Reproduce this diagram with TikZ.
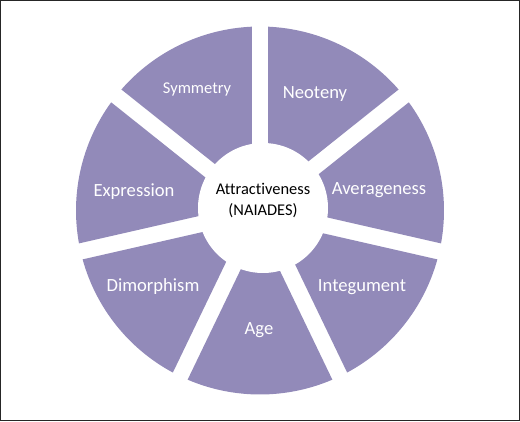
\documentclass[tikz,border=0pt]{standalone}
\usepackage{fontspec}
\setmainfont{Carlito}[Ligatures=NoCommon]
\definecolor{wheel}{RGB}{146,138,185}
\tikzset{
  seglabel/.style={text=white, inner sep=0pt, font=\fontsize{18.6}{22}\selectfont},
  seglabelsmall/.style={text=white, inner sep=0pt, font=\fontsize{16.5}{20}\selectfont},
  hublabel/.style={text=black, inner sep=0pt, align=center, font=\fontsize{16.4}{21}\selectfont}
}
\begin{document}
\begin{tikzpicture}[x=1pt,y=1pt]
\useasboundingbox (0,0) rectangle (520,421);
\draw[line width=1pt, black!85] (0.5,0.5) rectangle (519.5,420.5);
\coordinate (c) at (260,210.5);
\foreach \i in {0,...,6}{
  \pgfmathsetmacro\aone{90+\i*360/7+2.554}
  \pgfmathsetmacro\atwo{90+(\i+1)*360/7-2.554}
  \pgfmathsetmacro\amid{90+(\i+0.5)*360/7}
  \fill[wheel, shift={(c)}] (\amid:18.9) -- (\aone:184)
     arc[start angle=\aone, end angle=\atwo, radius=184] -- cycle;
}
\node[circle, fill=white, minimum size=130pt, inner sep=0pt] (hub) at (263,213) {};
\node[hublabel] (title) at (263,220.5) {Attractiveness\\(NAIADES)};
\node[seglabelsmall] (sym) at (197,332) {Symmetry};
\node[seglabel] (neo) at (315,327) {Neoteny};
\node[seglabel] (exp) at (134,229) {Expression};
\node[seglabel] (avg) at (379,231) {Averageness};
\node[seglabel] (dim) at (153,134) {Dimorphism};
\node[seglabel] (int) at (362,134) {Integument};
\node[seglabel] (age) at (259,91) {Age};
\end{tikzpicture}
\end{document}
